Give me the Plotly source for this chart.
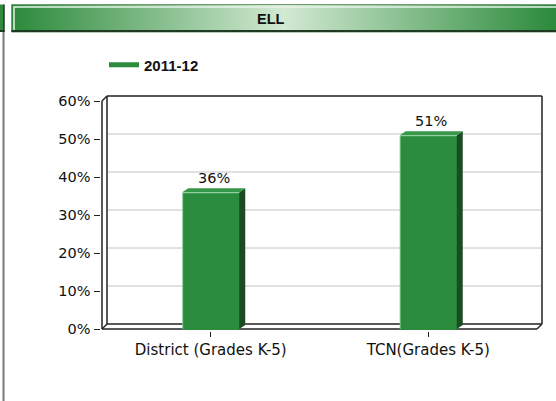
import plotly.graph_objects as go

# data
categories = ["District (Grades K-5)", "TCN(Grades K-5)"]
ell_2011_12 = [36, 51]
series_name = "2011-12"
panel_title = "ELL"
y_ticks = [0, 10, 20, 30, 40, 50, 60]
y_tick_labels = [f"{t}%" for t in y_ticks]

W, H = 556, 401

# pixel layout of the front plane of the 3d chart
front_left, front_right = 102, 537
front_bottom, front_top = 329, 101
depth_px = 5          # back wall offset
bar_dx_px, bar_dy_px = 6, 4
pad = 1.5

x_lo, x_hi = -0.5, len(categories) - 0.5
y_lo, y_hi = 0, 60
ppx = (front_right - front_left) / (x_hi - x_lo)
ppy = (front_bottom - front_top) / (y_hi - y_lo)
fdx = depth_px / ppx
fdy = depth_px / ppy
bdx = bar_dx_px / ppx
bdy = bar_dy_px / ppy
bar_w = 57 / ppx

green = "#2a8c3c"
dark_green = "#1b4b23"
cap_green = "#37984a"
tick_font = dict(family="DejaVu Sans", size=14.5, color="#111111")

fig = go.Figure()

fig.add_trace(go.Bar(
    x=list(range(len(categories))),
    y=ell_2011_12,
    width=bar_w,
    marker=dict(color=green, line=dict(width=0)),
    showlegend=False,
    hoverinfo="skip",
))

# legend entry drawn as a line like the original
fig.add_trace(go.Scatter(
    x=[None], y=[None], mode="lines",
    line=dict(color=green, width=5),
    name=series_name,
))

# header strip with gradient
fig.add_trace(go.Scatter(
    x=[0, 1, 1, 0, 0], y=[0, 0, 1, 1, 0],
    xaxis="x2", yaxis="y2",
    mode="lines", fill="toself",
    line=dict(width=0),
    fillgradient=dict(type="horizontal",
                      colorscale=[[0, "#2b8a3b"], [0.5, "#d2e9d2"], [1, "#2b8a3b"]]),
    showlegend=False, hoverinfo="skip",
))

shapes = []
line_style = dict(color="#222222", width=1.5)

# back wall gridlines
for t in y_ticks[1:-1]:
    shapes.append(dict(type="line", layer="below", xref="x", yref="y",
                       x0=x_lo + fdx, x1=x_hi + fdx, y0=t + fdy, y1=t + fdy,
                       line=dict(color="#c4c4c4", width=1)))

# 3d frame
frame = [
    (x_lo, y_lo, x_lo, y_hi),
    (x_lo, y_hi, x_lo + fdx, y_hi + fdy),
    (x_lo + fdx, y_lo + fdy, x_lo + fdx, y_hi + fdy),
    (x_lo + fdx, y_hi + fdy, x_hi + fdx, y_hi + fdy),
    (x_hi + fdx, y_hi + fdy, x_hi + fdx, y_lo + fdy),
    (x_lo + fdx, y_lo + fdy, x_hi + fdx, y_lo + fdy),
    (x_lo, y_lo, x_hi, y_lo),
    (x_lo, y_lo, x_lo + fdx, y_lo + fdy),
    (x_hi, y_lo, x_hi + fdx, y_lo + fdy),
]
for x0, y0, x1, y1 in frame:
    shapes.append(dict(type="line", layer="below", xref="x", yref="y",
                       x0=x0, y0=y0, x1=x1, y1=y1, line=line_style))

# bar side and top faces
for i, v in enumerate(ell_2011_12):
    xl, xr = i - bar_w / 2, i + bar_w / 2
    shapes.append(dict(type="path", xref="x", yref="y",
                       path=f"M{xr},0 L{xr + bdx},{bdy} L{xr + bdx},{v + bdy} L{xr},{v} Z",
                       fillcolor=dark_green, line=dict(width=0)))
    shapes.append(dict(type="path", xref="x", yref="y",
                       path=f"M{xl},{v} L{xl + bdx},{v + bdy} L{xr + bdx},{v + bdy} L{xr},{v} Z",
                       fillcolor=cap_green, line=dict(width=0)))
    shapes.append(dict(type="path", xref="x", yref="y",
                       path=f"M{xl + 0.002},0 L{xl + 0.002},{v - 0.15} L{xr},{v - 0.15}",
                       line=dict(color="#7cc88a", width=1)))


def px_x(p):
    return p / W


def px_y(p):
    return 1 - p / H


# header border: light top/left edge, dark bottom edge
shapes.append(dict(type="rect", xref="paper", yref="paper",
                   x0=px_x(11.5), x1=1.01, y0=px_y(32), y1=px_y(4.5),
                   line=dict(color="#6f9a74", width=1)))
shapes.append(dict(type="path", xref="paper", yref="paper",
                   path=f"M{px_x(14)},{px_y(30)} L{px_x(14)},{px_y(7)} L1.01,{px_y(7)}",
                   line=dict(color="#e8f3e8", width=1.5)))
shapes.append(dict(type="line", xref="paper", yref="paper",
                   x0=px_x(11.5), x1=1.01, y0=px_y(31), y1=px_y(31),
                   line=dict(color="#1e3a22", width=2)))

# edge of the neighbouring panel
shapes.append(dict(type="rect", xref="paper", yref="paper",
                   x0=0, x1=px_x(4), y0=px_y(32), y1=px_y(4.5),
                   fillcolor="#2f8a40", line=dict(width=0)))
shapes.append(dict(type="line", xref="paper", yref="paper",
                   x0=px_x(4), x1=px_x(4), y0=px_y(32), y1=px_y(4.5),
                   line=dict(color="#1e3a22", width=1.5)))
shapes.append(dict(type="line", xref="paper", yref="paper",
                   x0=0, x1=px_x(4.5), y0=px_y(31), y1=px_y(31),
                   line=dict(color="#1e3a22", width=2)))
shapes.append(dict(type="line", xref="paper", yref="paper",
                   x0=px_x(3.5), x1=px_x(3.5), y0=0, y1=px_y(32),
                   line=dict(color="#7a7a7a", width=2)))

annotations = []
for i, v in enumerate(ell_2011_12):
    annotations.append(dict(x=i + bdx / 2, y=v + bdy, xref="x", yref="y",
                            text=f"{v}%", showarrow=False, yanchor="bottom",
                            yshift=0, font=tick_font))
annotations.append(dict(x=px_x(271), y=px_y(19), xref="paper", yref="paper",
                        text=panel_title, showarrow=False,
                        xanchor="center", yanchor="middle",
                        font=dict(family="Liberation Sans", size=14.5, color="#111111",
                                  weight="bold")))

fig.update_layout(
    width=W, height=H,
    margin=dict(l=0, r=0, t=0, b=0),
    paper_bgcolor="white", plot_bgcolor="white",
    shapes=shapes, annotations=annotations,
    bargap=0,
    showlegend=True,
    legend=dict(x=px_x(104), y=px_y(65), xanchor="left", yanchor="middle",
                bgcolor="rgba(0,0,0,0)",
                font=dict(family="Liberation Sans", size=15, color="#111111",
                          weight="bold")),
    xaxis=dict(
        domain=[(front_left - pad) / W, (front_right + depth_px + pad) / W],
        range=[x_lo - pad / ppx, x_hi + fdx + pad / ppx],
        tickvals=list(range(len(categories))), ticktext=categories,
        ticks="outside", ticklen=5, tickcolor="#222222",
        showgrid=False, zeroline=False, showline=False, automargin=False,
        tickfont=dict(family="DejaVu Sans", size=15, color="#111111"),
        fixedrange=True,
    ),
    yaxis=dict(
        domain=[1 - (front_bottom + pad) / H, 1 - (front_top - depth_px - pad) / H],
        range=[y_lo - pad / ppy, y_hi + fdy + pad / ppy],
        tickvals=y_ticks, ticktext=y_tick_labels,
        ticks="outside", ticklen=6, tickcolor="#222222",
        showgrid=False, zeroline=False, showline=False, automargin=False,
        tickfont=tick_font,
        fixedrange=True,
    ),
    xaxis2=dict(domain=[px_x(12), 1], range=[0, 1], visible=False, fixedrange=True,
                anchor="y2", automargin=False),
    yaxis2=dict(domain=[px_y(31), px_y(5)], range=[0, 1], visible=False,
                fixedrange=True, anchor="x2", automargin=False),
)

fig.write_html("out.html", config={"displayModeBar": False},
               post_script="document.body.style.margin='0';")
